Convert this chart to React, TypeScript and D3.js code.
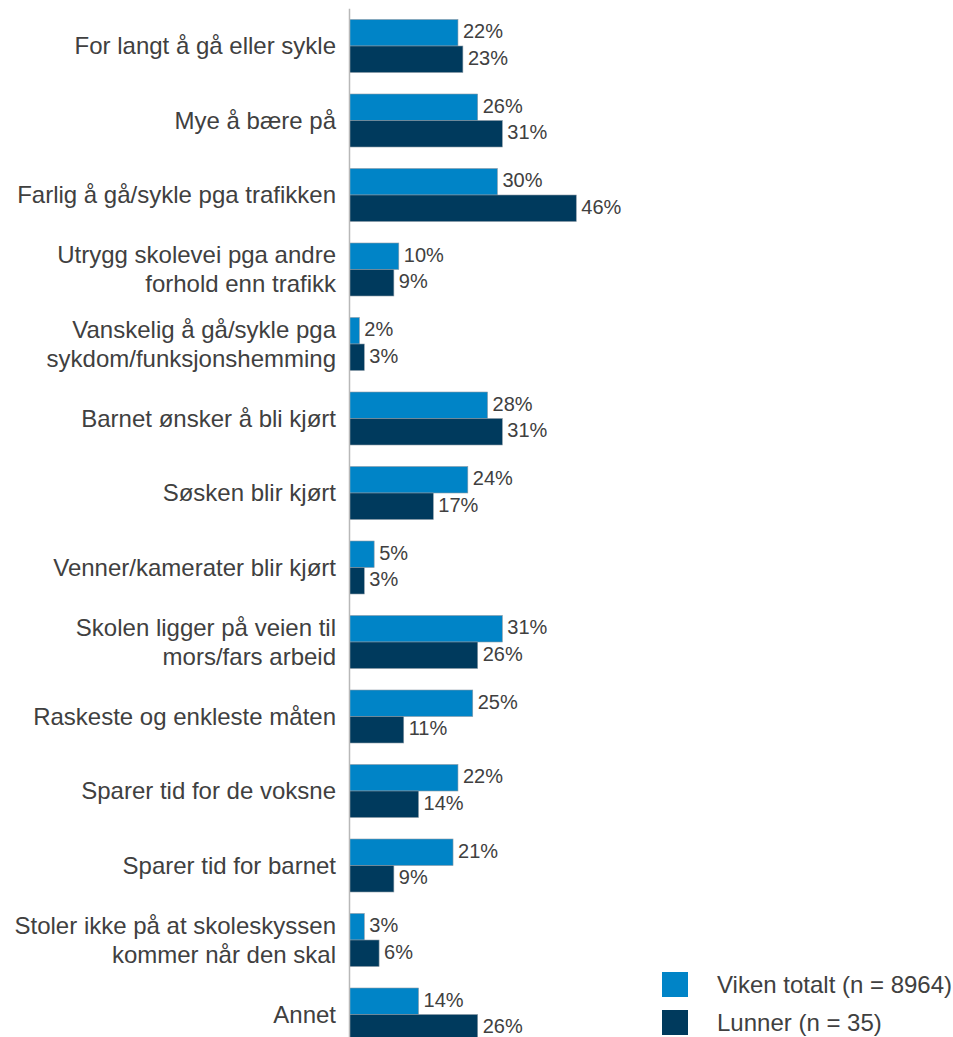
import React from "react";
import * as d3 from "d3";

const categories: string[][] = [
  ["For langt å gå eller sykle"],
  ["Mye å bære på"],
  ["Farlig å gå/sykle pga trafikken"],
  ["Utrygg skolevei pga andre", "forhold enn trafikk"],
  ["Vanskelig å gå/sykle pga", "sykdom/funksjonshemming"],
  ["Barnet ønsker å bli kjørt"],
  ["Søsken blir kjørt"],
  ["Venner/kamerater blir kjørt"],
  ["Skolen ligger på veien til", "mors/fars arbeid"],
  ["Raskeste og enkleste måten"],
  ["Sparer tid for de voksne"],
  ["Sparer tid for barnet"],
  ["Stoler ikke på at skoleskyssen", "kommer når den skal"],
  ["Annet"],
];

const seriesNames = ["Viken totalt (n = 8964)", "Lunner (n = 35)"];
const vikenValues = [22, 26, 30, 10, 2, 28, 24, 5, 31, 25, 22, 21, 3, 14];
const lunnerValues = [23, 31, 46, 9, 3, 31, 17, 3, 26, 11, 14, 9, 6, 26];
const seriesColors = ["#0084C7", "#003A5D"];

const W = 953;
const H = 1037;
const textColor = "#404040";
const font = "'Liberation Sans', Arial, sans-serif";

export default function App() {
  const keys = categories.map((c) => c.join(" "));
  const y = d3.scaleBand<string>().domain(keys).range([8.75, 8.75 + 14 * 74.5]).padding(0);
  const x = d3.scaleLinear().domain([0, 100]).range([349.5, 349.5 + 493]);
  const sub = d3
    .scaleBand<string>()
    .domain(seriesNames)
    .range([10.75, y.bandwidth() - 10.75])
    .padding(0);
  const allValues = [vikenValues, lunnerValues];

  return (
    <svg
      width={W}
      height={H}
      style={{ position: "absolute", left: 0, top: 0, background: "#fff" }}
      fontFamily={font}
    >
      {keys.map((k, i) => (
        <g key={k} transform={`translate(0,${y(k)})`}>
          {seriesNames.map((s, si) => {
            const v = allValues[si][i];
            const by = sub(s)!;
            const bh = sub.bandwidth();
            return (
              <g key={s}>
                <rect
                  x={x(0)}
                  y={by}
                  width={x(v) - x(0)}
                  height={bh}
                  fill={seriesColors[si]}
                  stroke="#8a9aa6"
                  strokeWidth={0.6}
                />
                <text
                  x={x(v) + 5}
                  y={by + bh / 2 + 5.5}
                  fontSize={20}
                  fill={textColor}
                >
                  {v}%
                </text>
              </g>
            );
          })}
        </g>
      ))}
      {categories.map((lines, i) => {
        const cy = y(keys[i])! + y.bandwidth() / 2;
        const lh = 29;
        const start = cy - ((lines.length - 1) * lh) / 2 + 8.4;
        return (
          <text key={i} textAnchor="end" fontSize={24} fill={textColor}>
            {lines.map((l, li) => (
              <tspan key={li} x={336} y={start + li * lh}>
                {l}
              </tspan>
            ))}
          </text>
        );
      })}
      <line x1={x(0)} x2={x(0)} y1={8.75} y2={H} stroke="#b8b8b8" strokeWidth={1.5} />
      {seriesNames.map((s, si) => (
        <g key={s} transform={`translate(662,${972 + si * 38})`}>
          <rect x={0} y={0} width={26} height={25} fill={seriesColors[si]} />
          <text x={55} y={12.5 + 8.4} fontSize={24} fill={textColor}>
            {s}
          </text>
        </g>
      ))}
    </svg>
  );
}
